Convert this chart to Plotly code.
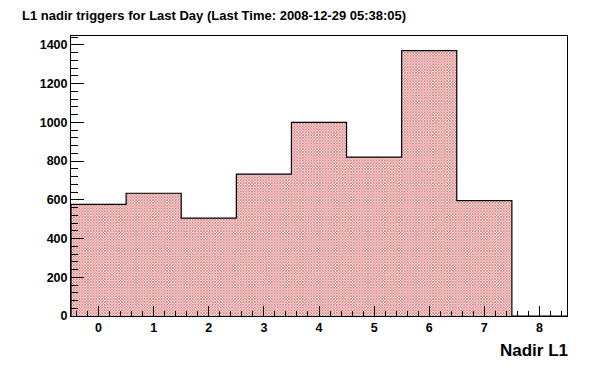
import plotly.graph_objects as go

# Data
bin_centers = [0, 1, 2, 3, 4, 5, 6, 7, 8]
counts = [576, 634, 505, 733, 1000, 820, 1370, 596, 0]
x_ticks = [0, 1, 2, 3, 4, 5, 6, 7, 8]
y_ticks = [0, 200, 400, 600, 800, 1000, 1200, 1400]
title_text = "L1 nadir triggers for Last Day (Last Time: 2008-12-29 05:38:05)"
x_title = "Nadir L1"

FONT = "Liberation Sans, Arial, Helvetica, sans-serif"

# page body has an 8px default margin; compensate so the picture lines up
OFF = 8
W, H = 596, 372
L, T, R_EDGE, B_EDGE = 71 - OFF, 36 - OFF, 567 - OFF, 316 - OFF

fig = go.Figure()

fig.add_trace(go.Bar(
    x=bin_centers, y=counts, width=1.0,
    marker=dict(
        color="white",
        line=dict(width=0),
        pattern=dict(shape="x", size=2, solidity=0.5, fgcolor="#c83030", bgcolor="white", fillmode="replace"),
    ),
    hoverinfo="skip", showlegend=False,
))

# step outline
edges = [c - 0.5 for c in bin_centers]
step_x = [edges[0]] + edges + [bin_centers[-1] + 0.5]
step_y = [0] + counts + [counts[-1]]
fig.add_trace(go.Scatter(
    x=step_x, y=step_y, mode="lines", line=dict(color="black", width=1.2, shape="hv"),
    hoverinfo="skip", showlegend=False,
))

fig.update_layout(
    width=W, height=H,
    margin=dict(l=L, r=W - R_EDGE, t=T, b=H - B_EDGE, autoexpand=False),
    paper_bgcolor="white", plot_bgcolor="white",
    bargap=0,
    font=dict(family=FONT, color="black"),
    title=dict(text="<b>" + title_text + "</b>", x=(22 - OFF) / W, xanchor="left",
               y=1, yanchor="top", pad=dict(t=3, b=0, l=0, r=0),
               font=dict(size=13, family=FONT, color="black")),
)

fig.update_xaxes(
    range=[-0.5, 8.5], tickvals=x_ticks, ticktext=["<b>%d</b>" % v for v in x_ticks],
    ticks="inside", ticklen=10, tickwidth=1, tickcolor="black",
    minor=dict(dtick=0.2, tick0=0, ticks="inside", ticklen=5, tickcolor="black", tickwidth=1, showgrid=False),
    showline=True, linecolor="black", linewidth=1, mirror=True,
    showgrid=False, zeroline=False, tickfont=dict(size=12.5, family=FONT),
)
fig.update_yaxes(
    range=[0, 1446], tickvals=y_ticks, ticktext=["<b>%d</b>" % v for v in y_ticks],
    ticks="inside", ticklen=13, tickwidth=1, tickcolor="black",
    minor=dict(dtick=40, tick0=0, ticks="inside", ticklen=7, tickcolor="black", tickwidth=1, showgrid=False),
    showline=True, linecolor="black", linewidth=1, mirror=True,
    showgrid=False, zeroline=False, tickfont=dict(size=12.5, family=FONT),
)

pw = R_EDGE - L
ph = B_EDGE - T
fig.add_annotation(
    text="<b>" + x_title + "</b>", xref="paper", yref="paper",
    x=(570 - OFF - L) / pw, y=-(350 - 316) / ph,
    xanchor="right", yanchor="middle", showarrow=False, font=dict(size=17, family=FONT, color="black"),
)

fig.write_html("out.html")
